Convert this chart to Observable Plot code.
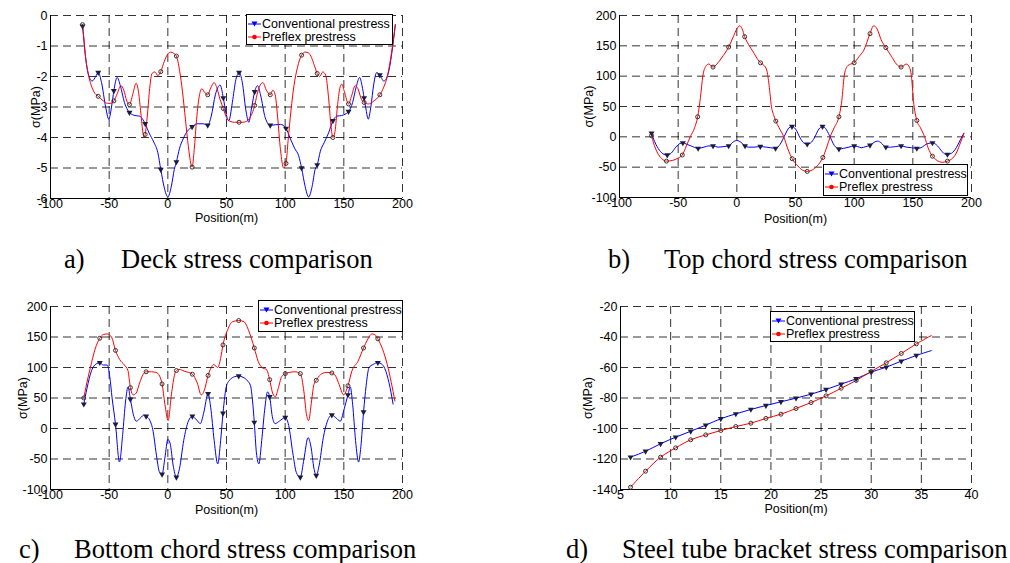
<!DOCTYPE html>
<html>
<head>
<meta charset="utf-8">
<script src="https://cdn.jsdelivr.net/npm/d3@7"></script>
<script src="https://cdn.jsdelivr.net/npm/@observablehq/plot@0.6"></script>
<style>
  html, body { margin: 0; padding: 0; background: #fff; }
  #root { position: relative; width: 1010px; height: 563px; overflow: hidden; background: #fff; }
  .panel { position: absolute; }
  .panel svg { overflow: visible; }
  .cap { position: absolute; font-family: "Liberation Serif", "Times New Roman", serif; font-size: 26.5px; line-height: 1; color: #000; white-space: nowrap; }
  .legend { position: absolute; box-sizing: border-box; border: 1px solid #000; background: #fff;
            font-family: "Liberation Sans", Arial, sans-serif; font-size: 12.5px; color: #000; }
  .lrow { position: absolute; left: 1px; height: 13px; line-height: 13px; white-space: nowrap; display: flex; align-items: center; }
  .lrow svg { display: block; margin-right: 1px; }
</style>
</head>
<body>
<div id="root"></div>
<script>
// ---------- texts ----------
const seriesNames = ["Conventional prestress", "Preflex prestress"];
const seriesColors = ["#0000ff", "#ff0000"];
const captionLetters = ["a)", "b)", "c)", "d)"];
const captionTexts = ["Deck stress comparison", "Top chord stress comparison",
                      "Bottom chord stress comparison", "Steel tube bracket stress comparison"];
const xLabel = "Position(m)";
const yLabel = "σ(MPa)";

// ---------- ticks ----------
const posTicks = [-100, -50, 0, 50, 100, 150, 200];
const deckTicks = [0, -1, -2, -3, -4, -5, -6];
const chordTicks = [200, 150, 100, 50, 0, -50, -100];
const tubeXTicks = [5, 10, 15, 20, 25, 30, 35, 40];
const tubeYTicks = [-20, -40, -60, -80, -100, -120, -140];

// ---------- a) deck stress (MPa) ----------
const deckMarkX = [-72.7, -59.3, -46, -32.7, -19.3, -6, 7.3, 20.7, 34, 47.3, 60.7, 74, 87.3, 100.7, 114, 127.3, 140.7, 154, 167.3, 180.7];
const deckConv = [[-72.7,-0.35],[-71.8,-0.7],[-70,-1.4],[-67.5,-1.95],[-64.5,-2.15],[-61.5,-2.0],[-59.3,-1.87],[-56.5,-2.2],[-53,-3.0],[-50.3,-3.4],[-48,-3.0],[-46,-2.47],[-43.2,-2.03],[-40.5,-2.3],[-37,-2.85],[-32.7,-3.18],[-28,-3.28],[-24,-3.3],[-21.5,-3.4],[-19.3,-3.55],[-16,-3.85],[-12,-4.15],[-8.5,-4.5],[-6,-5.05],[-3,-5.65],[0,-5.95],[3,-5.6],[5.5,-5.05],[7.3,-4.8],[10,-4.35],[13,-4.05],[16.5,-3.8],[20.7,-3.65],[25,-3.55],[30,-3.55],[34,-3.6],[37,-3.3],[40.5,-2.6],[44.5,-2.28],[47.3,-2.7],[49.5,-3.2],[52,-3.45],[55,-2.85],[58,-2.1],[60.7,-1.87],[63.5,-2.2],[66.5,-3.1],[69,-3.5],[71.5,-3.0],[74,-2.5],[76.5,-2.3],[79,-2.6],[83,-3.35],[87.3,-3.6],[92,-3.58],[96,-3.57],[100.7,-3.7],[104,-4.0],[108,-4.35],[111.5,-4.6],[114,-5.0],[117,-5.6],[120,-5.95],[123,-5.6],[125.5,-5.05],[127.3,-4.9],[130,-4.45],[133.5,-4.15],[137,-3.85],[140.7,-3.45],[144,-3.3],[148,-3.28],[154,-3.15],[157.5,-2.85],[160.5,-2.35],[163.5,-2.03],[165.5,-2.3],[167.3,-2.7],[169,-3.1],[170.8,-3.4],[173,-3.0],[175.5,-2.25],[178,-1.87],[180.7,-1.95],[184,-2.15],[186.5,-2.05],[189,-1.7],[191,-1.2],[192.5,-0.75],[193.9,-0.3]];
const deckPre = [[-72.7,-0.3],[-71.7,-0.7],[-70.3,-1.3],[-68.5,-1.8],[-66,-2.2],[-63,-2.5],[-59.3,-2.65],[-55,-2.8],[-51.5,-2.88],[-48.5,-2.88],[-46,-2.8],[-43,-2.55],[-40,-2.3],[-37.5,-2.45],[-35,-2.8],[-32.7,-2.92],[-30,-2.6],[-27,-2.22],[-25,-2.5],[-23,-3.2],[-21.2,-3.85],[-20.2,-4.0],[-19.3,-3.9],[-17.5,-3.3],[-15.5,-2.4],[-13.5,-1.9],[-11,-1.85],[-8.5,-1.97],[-6,-1.84],[-3,-1.5],[0,-1.26],[2.5,-1.2],[5,-1.24],[7.3,-1.33],[10,-1.8],[12.5,-2.5],[15,-3.4],[17.5,-4.3],[20.7,-4.97],[22.5,-4.4],[24.5,-3.4],[27,-2.6],[29,-2.4],[31,-2.5],[34,-2.6],[36.5,-2.38],[39.5,-2.2],[42,-2.4],[44.5,-2.75],[47.3,-3.05],[50,-3.35],[53,-3.47],[57,-3.5],[60.7,-3.5],[64,-3.5],[67,-3.47],[70,-3.35],[74,-2.95],[76,-2.6],[78.5,-2.3],[81,-2.2],[84,-2.45],[87.3,-2.6],[89.5,-2.45],[91.5,-2.6],[93.5,-3.3],[96,-4.4],[98.7,-5.0],[100.7,-4.85],[102.5,-4.1],[105,-3.1],[107.5,-2.3],[110.5,-1.7],[114,-1.3],[117,-1.2],[120,-1.23],[122.5,-1.38],[125,-1.65],[127.3,-1.9],[129.5,-2.0],[132,-1.85],[134.5,-1.95],[137,-2.7],[139,-3.6],[140.7,-4.0],[142.5,-3.8],[144.5,-3.0],[146.5,-2.4],[148.3,-2.25],[150.5,-2.5],[154,-2.9],[156.5,-2.65],[159.7,-2.3],[162,-2.4],[165,-2.75],[167.3,-2.85],[171,-2.9],[175,-2.82],[180.7,-2.6],[184,-2.35],[187,-2.0],[189.5,-1.5],[191.5,-1.0],[193.9,-0.3]];

// ---------- b) top chord stress (MPa) ----------
const topMarkX = [-72.7, -59.5, -46.3, -33.2, -20.3, -7, 6.8, 20.1, 33.1, 47.1, 60, 73.2, 87, 100, 113.5, 127, 140.1, 153.4, 166.7, 179.5];
const topConv = [[-72.7,6],[-70,-8],[-66,-22],[-62,-29],[-59.3,-30],[-56,-27],[-52,-17],[-48.5,-11],[-46,-10],[-43,-12],[-39,-15],[-33,-19],[-28,-17],[-24,-15],[-20.3,-15],[-16,-17],[-11,-16],[-7,-15],[-3.5,-9],[0,-6],[3.5,-9],[7,-15],[10,-17],[14.5,-17],[20,-16],[25,-17],[29,-18],[33,-19],[37,-12],[41,3],[44.5,15],[47,17],[50,13],[54,-2],[57,-10],[60,-12],[63,-10],[66,-2],[70,13],[73,17],[75.5,14],[79,2],[83,-14],[87,-20],[91,-19],[95.5,-17],[100,-15],[103,-16],[106,-18],[110,-16],[113.5,-14],[117,-9],[120,-7],[123,-10],[127,-17],[131,-17],[135.5,-16],[140,-15],[144.5,-17],[149,-18],[153.4,-19],[157,-18],[160,-14],[163,-11],[166.7,-10],[170,-13],[174,-22],[177,-28],[179.5,-29],[183,-27],[187,-18],[190.5,-5],[193.5,6]];
const topPre = [[-72.7,2],[-71,-10],[-68,-25],[-64,-36],[-60,-40],[-55,-39],[-50,-35],[-46.5,-30],[-43,-15],[-39.7,0],[-36,15],[-33.4,33],[-31,65],[-29,100],[-26.5,116],[-24,120],[-20.3,115],[-17,120],[-13,130],[-7,148],[-3,165],[0,178],[2.5,183],[4.5,178],[6.7,165],[10,152],[14,140],[18,127],[20.2,122],[23,118],[25.5,110],[27.5,85],[29.5,50],[31.5,35],[33.2,26],[36,15],[40,0],[43.5,-20],[47.2,-36],[52,-48],[56,-55],[60,-57],[64,-55],[68.5,-48],[73.3,-34],[77,-15],[79.5,0],[83,15],[87,33],[89.5,60],[91.5,100],[94,116],[97,120],[100,122],[104,132],[108,142],[113.5,170],[116.5,183],[119.5,178],[123,160],[127,147],[132,132],[136,120],[140,115],[144.5,120],[147,115],[148.8,100],[150.5,60],[153.4,27],[156.5,15],[160,0],[163,-18],[166.7,-32],[170,-38],[175,-42],[179.5,-40],[184,-35],[187.5,-25],[190.5,-10],[193.5,5]];

// ---------- c) bottom chord stress (MPa) ----------
const botMarkX = [-71.6, -58, -44.6, -31.9, -18.5, -4.9, 7.3, 20.9, 34.3, 47, 60.4, 73.7, 86.8, 100.1, 112.9, 126.5, 139.8, 153.5, 166.8, 179];
const botConv = [[-71.6,40],[-69,65],[-65,95],[-61,106],[-58,108],[-55,104],[-51.5,104],[-49.5,85],[-47.5,50],[-44.6,7],[-41.2,-55],[-38.5,-10],[-36,45],[-33.9,68],[-31.9,48],[-29,20],[-26.8,12],[-23,18],[-20.5,22],[-18.5,20],[-15.5,14],[-12.5,-5],[-10,-40],[-7,-72],[-4.9,-75],[-2.5,-48],[0,-18],[2,-25],[4.5,-60],[7.3,-80],[10,-65],[13.5,-20],[17.5,12],[20.9,20],[24.5,14],[27.7,8],[30.5,25],[34.3,57],[36.5,35],[39.5,-20],[42.5,-58],[45,-20],[47,25],[50,70],[53,80],[57,85],[60.4,86],[64,84],[68,78],[70.5,70],[72.2,45],[73.7,10],[75.5,-40],[77.6,-58],[80,-20],[82.5,30],[85,60],[86.8,52],[89,20],[91.5,8],[95,12],[100.1,18],[103,5],[106.5,-40],[109.5,-72],[112.9,-80],[116,-50],[119.5,-15],[122,-30],[124.5,-65],[126.5,-77],[129,-60],[132.5,-15],[136,12],[139.8,22],[143,18],[147,12],[150,30],[153.5,55],[155.5,68],[157.5,40],[160,-20],[162.6,-55],[164.5,-30],[166.8,27],[169,70],[171.5,100],[175,105],[179,108],[182,106],[185,98],[188.5,75],[192,40]];
const botPre = [[-71.6,50],[-69,75],[-66,100],[-62,130],[-58,148],[-55,154],[-51.7,155],[-48,150],[-44.6,128],[-41,113],[-37,104],[-34,95],[-31.9,67],[-29.5,55],[-27,58],[-24,75],[-21,89],[-18.5,93],[-14,93],[-10,92],[-7,86],[-4.9,73],[-2.5,40],[0.3,13],[3,55],[6,90],[7.3,95],[9.5,97],[14,94],[20.9,89],[25,75],[28.5,55],[31,62],[34.3,87],[37,100],[39,105],[42.5,100],[45,115],[47,137],[51,162],[55,175],[60.4,177],[65,175],[69,160],[73.7,132],[77,110],[81,99],[84,97],[86.8,80],[89,60],[91.6,52],[94,65],[97,85],[100.1,90],[104,92],[108,93],[112.9,90],[116,60],[118,25],[120,13],[122.5,45],[124.5,72],[126.5,79],[130,88],[135,92],[139.8,91],[143,86],[146,72],[149.8,55],[153.5,70],[157,95],[162,110],[166.8,132],[170,145],[174,155],[177,153],[179,147],[183,130],[187,105],[190.5,75],[193.5,45]];

// ---------- d) steel tube bracket stress (MPa) ----------
const tubeMarkX = [6, 7.5, 9, 10.5, 12, 13.5, 15, 16.5, 18, 19.5, 21, 22.5, 24, 25.5, 27, 28.5, 30, 31.5, 33, 34.5];
const tubeConv = [[6,-118.8],[7.5,-114.9],[9,-110],[10.5,-105.7],[12,-101.8],[13.5,-97.8],[15,-93.6],[16.5,-90.4],[18,-87.5],[19.5,-84.9],[21,-82.5],[22.5,-80.1],[24,-77.5],[25.5,-74.4],[27,-70.9],[28.5,-67.4],[30,-63],[31.5,-59.8],[33,-55.8],[34.5,-52.1],[36,-48.9]];
const tubePre = [[6,-138.5],[7.5,-128],[9,-118.8],[10.5,-112.7],[12,-107.4],[13.5,-104.2],[15,-101.3],[16.5,-98.7],[18,-96.5],[19.5,-93.4],[21,-90.6],[22.5,-86.9],[24,-83],[25.5,-78.6],[27,-73.6],[28.5,-68.5],[30,-62.6],[31.5,-56.9],[33,-50.8],[34.5,-44.5],[36,-39]];

// ---------- helpers ----------
const toPts = arr => arr.map(([x, y]) => ({x, y}));
function markPts(arr, mx) {
  return mx.map(m => {
    let best = arr[0];
    for (const p of arr) if (Math.abs(p[0] - m) < Math.abs(best[0] - m)) best = p;
    return {x: best[0], y: best[1]};
  });
}
const gridStyle = {stroke: "#000", strokeOpacity: 0.8, strokeWidth: 1, strokeDasharray: "8,5"};

function panel(cfg) {
  return Plot.plot({
    width: cfg.w, height: cfg.h,
    marginLeft: cfg.ml, marginRight: cfg.mr, marginTop: cfg.mt, marginBottom: cfg.mb,
    style: {fontFamily: '"Liberation Sans", Arial, sans-serif', fontSize: "12.5px", color: "#000", background: "transparent", overflow: "visible"},
    x: {domain: cfg.xd},
    y: {domain: cfg.yd},
    marks: [
      Plot.gridX(cfg.xt, gridStyle),
      Plot.gridY(cfg.yt, gridStyle),
      Plot.ruleX([cfg.xd[0]], {stroke: "#000", strokeWidth: 1}),
      Plot.ruleY([cfg.yd[0]], {stroke: "#000", strokeWidth: 1}),
      Plot.axisX(cfg.xt, {tickSize: 0, tickPadding: 1, tickFormat: d => String(d), label: null}),
      Plot.axisY(cfg.yt, {tickSize: 0, tickPadding: 3, tickFormat: d => String(d), label: null}),
      Plot.text([xLabel], {text: d => d, frameAnchor: "bottom", dy: cfg.xlo, lineAnchor: "middle", textAnchor: "middle"}),
      Plot.text([yLabel], {text: d => d, frameAnchor: "left", dx: -cfg.ylo, rotate: -90, lineAnchor: "middle", textAnchor: "middle"}),
      Plot.line(toPts(cfg.conv), {x: "x", y: "y", stroke: seriesColors[0], strokeWidth: 1, curve: cfg.curve}),
      Plot.line(toPts(cfg.pre), {x: "x", y: "y", stroke: seriesColors[1], strokeWidth: 1, curve: cfg.curve}),
      Plot.dot(markPts(cfg.conv, cfg.mx), {x: "x", y: "y", symbol: "triangle", r: 2.2, fill: "#1b1b3b", stroke: "none", rotate: 180}),
      Plot.dot(markPts(cfg.pre, cfg.mx), {x: "x", y: "y", r: 2, fill: "none", stroke: "#333", strokeWidth: 1})
    ]
  });
}

const root = document.getElementById("root");
function place(el, left, top) {
  const d = document.createElement("div");
  d.className = "panel";
  d.style.left = left + "px"; d.style.top = top + "px";
  d.appendChild(el);
  root.appendChild(d);
}
function legend(left, top, width, height) {
  const box = document.createElement("div");
  box.className = "legend";
  box.style.cssText = `left:${left}px;top:${top}px;width:${width}px;height:${height}px;`;
  seriesNames.forEach((name, i) => {
    const row = document.createElement("div");
    row.className = "lrow";
    row.style.top = (i === 0 ? 2.5 : 15.5) + "px";
    const sym = i === 0
      ? `<path d="M3.5,3.5L9.5,3.5L6.5,8.5Z" fill="${seriesColors[0]}"/>`
      : `<circle cx="6.5" cy="6" r="2.3" fill="${seriesColors[1]}"/>`;
    row.innerHTML = `<svg width="13" height="12"><line x1="0" x2="13" y1="6" y2="6" stroke="${seriesColors[i]}" stroke-width="1"/>${sym}</svg><span>${name}</span>`;
    box.appendChild(row);
  });
  root.appendChild(box);
}
function caption(i, letterLeft, textLeft, top) {
  const a = document.createElement("div");
  a.className = "cap"; a.textContent = captionLetters[i];
  a.style.left = letterLeft + "px"; a.style.top = top + "px";
  const b = document.createElement("div");
  b.className = "cap"; b.textContent = captionTexts[i];
  b.style.left = textLeft + "px"; b.style.top = top + "px";
  root.appendChild(a); root.appendChild(b);
}

// a)
place(panel({w: 500, h: 232, ml: 50, mr: 98, mt: 15, mb: 34, xd: [-100, 200], yd: [-6, 0],
  xt: posTicks, yt: deckTicks, conv: deckConv, pre: deckPre, mx: deckMarkX, curve: "monotone-x", xlo: 19, ylo: 15}), 0, 0);
// b)
place(panel({w: 505, h: 232, ml: 114, mr: 39, mt: 15, mb: 35, xd: [-100, 200], yd: [-100, 200],
  xt: posTicks, yt: chordTicks, conv: topConv, pre: topPre, mx: topMarkX, curve: "monotone-x", xlo: 21, ylo: 31}), 505, 0);
// c)
place(panel({w: 500, h: 240, ml: 50, mr: 98, mt: 26, mb: 31, xd: [-100, 200], yd: [-100, 200],
  xt: posTicks, yt: chordTicks, conv: botConv, pre: botPre, mx: botMarkX, curve: "monotone-x", xlo: 20, ylo: 28}), 0, 280);
// d)
place(panel({w: 505, h: 240, ml: 115, mr: 39, mt: 26, mb: 31, xd: [5, 40], yd: [-140, -20],
  xt: tubeXTicks, yt: tubeYTicks, conv: tubeConv, pre: tubePre, mx: tubeMarkX, curve: "catmull-rom", xlo: 19, ylo: 33}), 505, 280);

legend(246, 14, 147, 31);
legend(823, 164, 145, 32);
legend(258, 300, 145, 32);
legend(770, 311, 145, 31);

caption(0, 64, 121, 246);
caption(1, 608, 664, 246);
caption(2, 19, 74, 536);
caption(3, 566, 622, 536);
</script>
</body>
</html>
